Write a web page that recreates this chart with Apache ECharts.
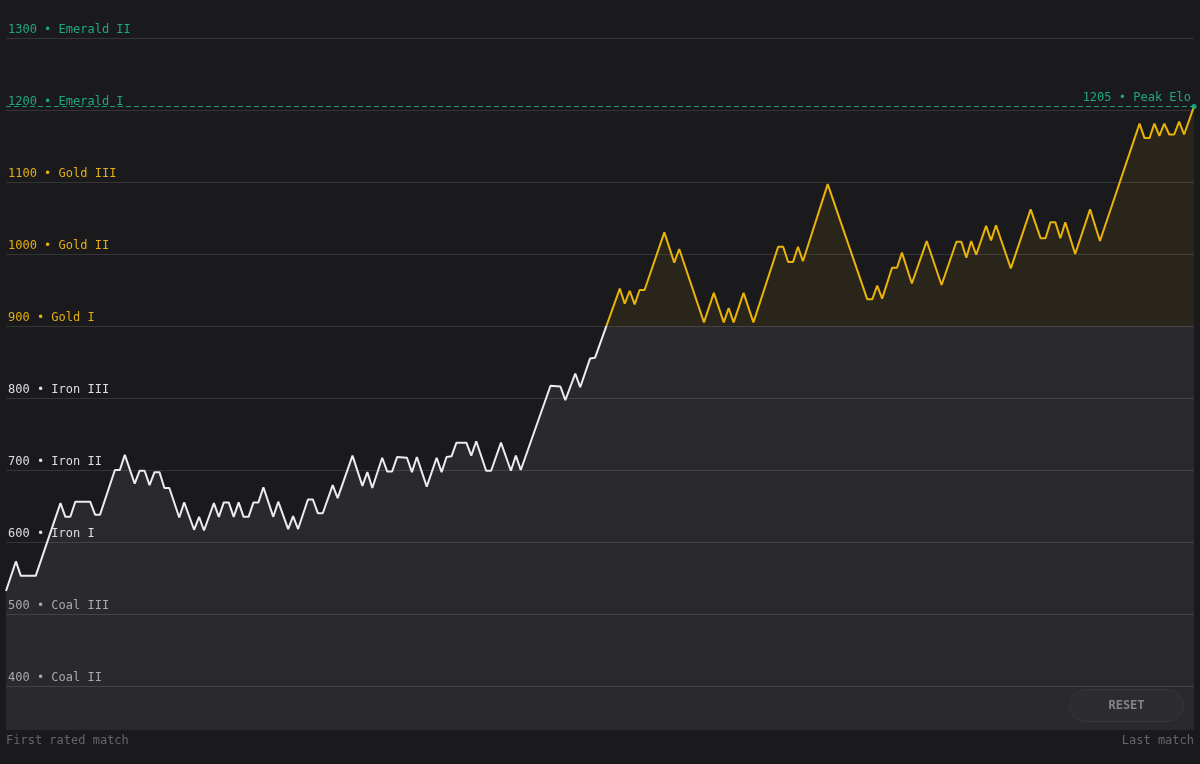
<!DOCTYPE html>
<html>
<head>
<meta charset="utf-8">
<title>Elo history</title>
<script src="https://cdn.jsdelivr.net/npm/echarts@6/dist/echarts.min.js"></script>
<style>
  html, body { margin: 0; padding: 0; background: #1a1a1d; }
  #chart { width: 1200px; height: 764px; }
</style>
</head>
<body>
<div id="chart"></div>
<script>
// match number (turning points of the rating line) and rating after that match
const matchNo = [
  0, 2, 3, 6, 11, 12, 13, 14, 17, 18, 19, 22, 23, 24, 26, 27, 28, 29, 30, 31,
  32, 33, 35, 36, 38, 39, 40, 42, 43, 44, 45, 46, 47, 48, 49, 50, 51, 52, 54, 55,
  57, 58, 59, 61, 62, 63, 64, 66, 67, 70, 72, 73, 74, 76, 77, 78, 79, 81, 82, 83,
  85, 87, 88, 89, 90, 91, 93, 94, 95, 97, 98, 100, 102, 103, 104, 110, 112, 113, 115, 116,
  118, 119, 124, 125, 126, 127, 128, 129, 133, 135, 136, 141, 143, 145, 146, 147, 149, 151, 156, 157,
  158, 159, 160, 161, 166, 174, 175, 176, 177, 179, 180, 181, 183, 186, 189, 192, 193, 194, 195, 196,
  198, 199, 200, 203, 207, 209, 210, 211, 212, 213, 214, 216, 219, 221, 229, 230, 231, 232, 233, 234,
  235, 236, 237, 238, 240
];
const elo = [
  532, 573, 553, 553, 654, 635, 635, 656, 656, 638, 638, 700, 700, 721, 681, 699, 699, 679, 697, 697,
  675, 675, 634, 655, 617, 635, 616, 654, 635, 655, 655, 635, 655, 635, 635, 655, 655, 676, 635, 656,
  618, 636, 618, 659, 659, 640, 640, 679, 661, 720, 678, 697, 675, 717, 698, 698, 718, 717, 697, 718,
  677, 717, 697, 718, 719, 738, 738, 720, 740, 699, 699, 738, 699, 720, 700, 817, 816, 797, 834, 815,
  855, 856, 952, 931, 949, 930, 950, 950, 1030, 988, 1007, 905, 946, 905, 925, 905, 946, 905, 1010, 1010,
  989, 989, 1010, 990, 1097, 937, 937, 956, 938, 981, 981, 1002, 959, 1018, 957, 1017, 1017, 995, 1018, 999,
  1039, 1019, 1040, 980, 1062, 1022, 1022, 1044, 1044, 1022, 1044, 1000, 1062, 1018, 1181, 1161, 1161, 1181, 1164, 1181,
  1166, 1166, 1184, 1166, 1205
];

const tierElo = [400, 500, 600, 700, 800, 900, 1000, 1100, 1200, 1300];
const tierName = ['Coal II', 'Coal III', 'Iron I', 'Iron II', 'Iron III',
  'Gold I', 'Gold II', 'Gold III', 'Emerald I', 'Emerald II'];
const goldFrom = 900;
const firstLabel = 'First rated match';
const lastLabel = 'Last match';
const peakLabel = 'Peak Elo';

const FONT = '"DejaVu Sans Mono", "Liberation Mono", monospace';
const tierColor = { coal: '#a3a3a8', iron: '#dedee2', gold: '#e2ae14', emerald: '#1fa77c' };

const data = matchNo.map((m, i) => [m, elo[i]]);
const lastMatch = matchNo[matchNo.length - 1];
const peak = Math.max(...elo);
const peakMatch = matchNo[elo.indexOf(peak)];

const chart = echarts.init(document.getElementById('chart'));

const rich = {};
Object.keys(tierColor).forEach(k => {
  rich[k] = { color: tierColor[k], fontFamily: FONT, fontSize: 12 };
});

const option = {
  backgroundColor: '#1a1a1d',
  animation: false,
  grid: { left: 6, right: 6, top: 0, bottom: 34 },
  xAxis: {
    type: 'value',
    min: 0,
    max: lastMatch,
    interval: lastMatch,
    axisLine: { show: false },
    axisTick: { show: false },
    splitLine: { show: false },
    axisLabel: {
      color: '#65656a',
      fontFamily: FONT,
      fontSize: 12,
      margin: 5,
      alignMinLabel: 'left',
      alignMaxLabel: 'right',
      formatter: v => (v === 0 ? firstLabel : (v === lastMatch ? lastLabel : ''))
    }
  },
  yAxis: {
    type: 'value',
    min: 338.9,
    max: 1352.8,
    axisLine: { show: false },
    axisTick: { show: false, customValues: tierElo },
    splitLine: { show: true, lineStyle: { color: '#353539', width: 1 } },
    axisLabel: {
      inside: true,
      margin: 2,
      customValues: tierElo,
      verticalAlign: 'bottom',
      lineHeight: 14,
      padding: [0, 0, 1, 0],
      formatter: v => {
        const name = tierName[tierElo.indexOf(v)];
        if (!name) return '';
        const key = name.split(' ')[0].toLowerCase();
        return '{' + key + '|' + v + ' \u2022 ' + name + '}';
      },
      rich: rich
    }
  },
  visualMap: {
    type: 'piecewise',
    show: false,
    dimension: 1,
    seriesIndex: 0,
    pieces: [
      { gte: 0, lt: goldFrom, color: '#ececee' },
      { gte: goldFrom, lte: 3000, color: '#eab308' }
    ]
  },
  series: [
    {
      type: 'line',
      data: data,
      showSymbol: false,
      symbol: 'none',
      silent: true,
      lineStyle: { width: 2 },
      areaStyle: { opacity: 0.075 },
      markLine: {
        silent: true,
        symbol: 'none',
        lineStyle: { color: '#1f9a73', type: [5, 3], width: 1 },
        label: {
          position: 'insideEndTop',
          color: '#1fa77c',
          fontFamily: FONT,
          fontSize: 12,
          distance: 3,
          formatter: () => peak + ' \u2022 ' + peakLabel
        },
        data: [{ yAxis: peak }]
      },
      markPoint: {
        silent: true,
        symbol: 'circle',
        symbolSize: 5,
        itemStyle: { color: '#1fa77c' },
        label: { show: false },
        data: [{ coord: [peakMatch, peak] }]
      }
    }
  ],
  graphic: [
    {
      type: 'group',
      right: 16,
      bottom: 42,
      children: [
        {
          type: 'rect',
          shape: { x: 0, y: 0, width: 114, height: 32, r: 16 },
          style: { fill: '#1d1d20', stroke: '#28282c', lineWidth: 1 }
        },
        {
          type: 'text',
          x: 57,
          y: 16,
          style: {
            text: 'RESET',
            fill: '#7c7c82',
            font: 'bold 12px ' + FONT,
            align: 'center',
            verticalAlign: 'middle'
          }
        }
      ]
    }
  ]
};

chart.setOption(option);
</script>
</body>
</html>
